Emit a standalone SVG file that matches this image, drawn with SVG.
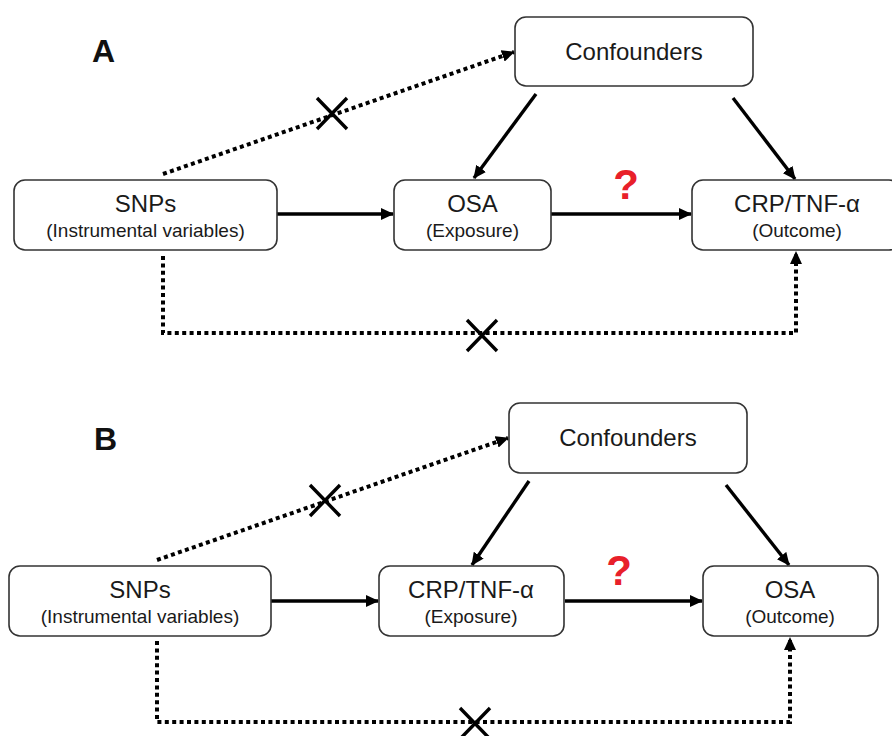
<svg xmlns="http://www.w3.org/2000/svg" width="892" height="736" viewBox="0 0 892 736">
<defs>
<style>
.box{fill:#fff;stroke:#333;stroke-width:1.6}
.t1{font-family:"Liberation Sans",Arial,sans-serif;font-size:24px;fill:#1a1a1a;text-anchor:middle}
.t2{font-family:"Liberation Sans",Arial,sans-serif;font-size:19px;fill:#1a1a1a;text-anchor:middle}
.lab{font-family:"Liberation Sans",Arial,sans-serif;font-size:32px;font-weight:bold;fill:#111}
.q{font-family:"Liberation Sans",Arial,sans-serif;font-size:42px;font-weight:bold;fill:#e8202a;text-anchor:middle}
.solid{fill:none;stroke:#000;stroke-width:3.4;marker-end:url(#ah)}
.dot{fill:none;stroke:#000;stroke-width:4;stroke-dasharray:4 3.4;marker-end:url(#ah)}
.x{stroke:#000;stroke-width:3.4;fill:none}
</style>
<marker id="ah" markerUnits="userSpaceOnUse" markerWidth="14" markerHeight="12" refX="12" refY="6" orient="auto">
<path d="M0,0 L13,6 L0,12 Z" fill="#000"/>
</marker>
</defs>

<text class="lab" x="92" y="62">A</text>
<text class="lab" x="94" y="450">B</text>

<g id="connectors">
<path class="solid" d="M277,214 H393"/>
<path class="solid" d="M551,214 H691"/>
<path class="solid" d="M536,94 L474,178"/>
<path class="solid" d="M733,98 L795,179"/>
<path class="dot" d="M163,174 L514,52"/>
<path class="dot" d="M163,256 V333 H796 V252"/>
<path class="solid" d="M271,601 H378"/>
<path class="solid" d="M565,601 H702"/>
<path class="solid" d="M529,481 L472,565"/>
<path class="solid" d="M726,485 L789,565"/>
<path class="dot" d="M157,560 L508,438"/>
<path class="dot" d="M157,641 V722 H790 V638"/>
<path class="x" d="M317,98 L347,129 M347,98 L317,129"/>
<path class="x" d="M467,320 L497,351 M497,320 L467,351"/>
<path class="x" d="M310,485 L340,516 M340,485 L310,516"/>
<path class="x" d="M460,708 L490,739 M490,708 L460,739"/>
<text class="q" x="626" y="199">?</text>
<text class="q" x="619" y="585">?</text>
</g>

<g id="a-confounders">
<rect class="box" x="515" y="17" width="238" height="69" rx="11"/>
<text class="t1" x="634" y="60">Confounders</text>
</g>
<g id="a-snps">
<rect class="box" x="14" y="180" width="263" height="70" rx="11"/>
<text class="t1" x="145.5" y="212">SNPs</text>
<text class="t2" x="145.5" y="237">(Instrumental variables)</text>
</g>
<g id="a-osa">
<rect class="box" x="394" y="180" width="157" height="70" rx="11"/>
<text class="t1" x="472.5" y="212">OSA</text>
<text class="t2" x="472.5" y="237">(Exposure)</text>
</g>
<g id="a-crp">
<rect class="box" x="692" y="180" width="208" height="70" rx="11"/>
<text class="t1" x="797" y="212">CRP/TNF-α</text>
<text class="t2" x="797" y="237">(Outcome)</text>
</g>

<g id="b-confounders">
<rect class="box" x="509" y="403" width="238" height="70" rx="11"/>
<text class="t1" x="628" y="446">Confounders</text>
</g>
<g id="b-snps">
<rect class="box" x="9" y="566" width="262" height="70" rx="11"/>
<text class="t1" x="140" y="598">SNPs</text>
<text class="t2" x="140" y="623">(Instrumental variables)</text>
</g>
<g id="b-crp">
<rect class="box" x="379" y="566" width="185" height="70" rx="11"/>
<text class="t1" x="471" y="598">CRP/TNF-α</text>
<text class="t2" x="471" y="623">(Exposure)</text>
</g>
<g id="b-osa">
<rect class="box" x="703" y="566" width="175" height="70" rx="11"/>
<text class="t1" x="790" y="598">OSA</text>
<text class="t2" x="790" y="623">(Outcome)</text>
</g>
</svg>
